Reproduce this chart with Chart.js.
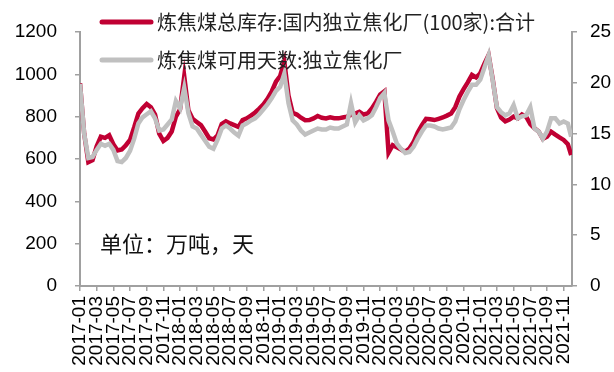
<!DOCTYPE html>
<html>
<head>
<meta charset="utf-8">
<script src="https://cdn.jsdelivr.net/npm/chart.js@4/dist/chart.umd.min.js"></script>
<style>
html,body{margin:0;padding:0;background:#fff;}
#wrap{width:614px;height:372px;}
</style>
</head>
<body>
<div id="wrap"><canvas id="c" width="614" height="372"></canvas></div>
<script>
// ---- data ----
const tickLabels = ['2017-01','2017-03','2017-05','2017-07','2017-09','2017-11',
  '2018-01','2018-03','2018-05','2018-07','2018-09','2018-11',
  '2019-01','2019-03','2019-05','2019-07','2019-09','2019-11',
  '2020-01','2020-03','2020-05','2020-07','2020-09','2020-11',
  '2021-01','2021-03','2021-05','2021-07','2021-09','2021-11'];

const dates = [
  '2017-01-01','2017-01-16','2017-02-01','2017-02-16','2017-03-01','2017-03-16','2017-04-01','2017-04-16','2017-05-01','2017-05-16','2017-06-01','2017-06-16',
  '2017-07-01','2017-07-16','2017-08-01','2017-08-16','2017-09-01','2017-09-16','2017-10-01','2017-10-16','2017-11-01','2017-11-16','2017-12-01','2017-12-16',
  '2018-01-01','2018-01-16','2018-02-01','2018-02-16','2018-03-01','2018-03-16','2018-04-01','2018-04-16','2018-05-01','2018-05-16','2018-06-01','2018-06-16',
  '2018-07-01','2018-07-16','2018-08-01','2018-08-16','2018-09-01','2018-09-16','2018-10-01','2018-10-16','2018-11-01','2018-11-16','2018-12-01','2018-12-16',
  '2019-01-01','2019-01-16','2019-02-01','2019-02-16','2019-03-01','2019-03-16','2019-04-01','2019-04-16','2019-05-01','2019-05-16','2019-06-01','2019-06-16',
  '2019-07-01','2019-07-16','2019-08-01','2019-08-16','2019-09-01','2019-09-16','2019-10-01','2019-10-16','2019-11-01','2019-11-16','2019-12-01','2019-12-16',
  '2020-01-01','2020-01-16','2020-02-01','2020-02-16','2020-03-01','2020-03-16','2020-04-01','2020-04-16','2020-05-01','2020-05-16','2020-06-01','2020-06-16',
  '2020-07-01','2020-07-16','2020-08-01','2020-08-16','2020-09-01','2020-09-16','2020-10-01','2020-10-16','2020-11-01','2020-11-16','2020-12-01','2020-12-16',
  '2021-01-01','2021-01-16','2021-02-01','2021-02-16','2021-03-01','2021-03-16','2021-04-01','2021-04-16','2021-05-01','2021-05-16','2021-06-01','2021-06-16',
  '2021-07-01','2021-07-16','2021-08-01','2021-08-16','2021-09-01','2021-09-16','2021-10-01','2021-10-16','2021-11-01','2021-11-16','2021-11-28'
];

// 炼焦煤总库存:国内独立焦化厂(100家):合计 (万吨)
const totalStock = [
  958,720,585,595,660,705,700,712,670,640,645,665,690,750,815,840,860,845,810,720,685,700,730,800,
  835,990,830,790,775,760,730,698,692,712,765,778,768,760,752,784,792,805,820,838,858,885,920,965,
  992,1060,900,818,810,795,783,784,792,803,795,792,797,793,792,796,800,808,815,823,810,815,839,870,
  905,920,630,665,655,645,634,650,680,725,760,790,788,784,790,796,805,815,845,895,930,962,997,985,
  1005,1050,1091,975,840,795,778,786,800,792,810,800,765,745,730,695,705,729,715,702,690,670,619
];

// 炼焦煤可用天数:独立焦化厂 (天)
const usableDays = [
  19.9,15.0,12.6,12.7,13.4,14.0,13.8,14.0,13.4,12.3,12.2,12.6,13.3,14.5,16.0,16.6,16.9,17.2,16.5,15.3,15.4,15.9,16.4,18.2,
  17.5,19.5,17.0,15.7,15.5,14.9,14.3,13.7,13.5,14.4,15.5,15.8,15.5,15.1,14.8,15.8,16.0,16.3,16.5,16.9,17.4,17.9,18.5,19.2,
  19.6,20.9,18.0,16.3,15.9,15.3,14.9,15.1,15.3,15.5,15.4,15.4,15.6,15.5,15.5,15.7,15.9,18.0,16.1,16.8,16.3,16.5,16.8,17.6,
  18.5,19.0,16.3,15.2,14.0,13.5,13.1,13.2,13.7,14.5,15.2,15.8,15.8,15.7,15.5,15.4,15.5,15.6,16.2,17.4,18.3,19.1,19.8,19.8,
  20.3,21.5,22.7,20.2,17.6,17.1,16.8,17.0,17.8,16.5,16.7,16.8,17.6,15.5,15.2,14.5,15.2,16.5,16.5,16.0,16.2,16.0,14.7
];

const seriesNames = ['炼焦煤总库存:国内独立焦化厂(100家):合计', '炼焦煤可用天数:独立焦化厂'];
const unitNote = '单位：万吨，天';

// ---- helpers ----
function monthIndex(s) {
  const [y, m, d] = s.split('-').map(Number);
  return (y - 2017) * 12 + (m - 1) + (d - 1) / 30;
}
const xs = dates.map(monthIndex);
const toPts = vals => vals.map((v, i) => ({ x: xs[i], y: v }));

const RED = '#C00033';
const GRAY = '#C0C0C0';
const AXIS = '#A0A0A0';
const tickFont = { family: '"Liberation Sans", Arial, sans-serif', size: 19 };

const overlay = {
  id: 'overlay',
  afterDatasetsDraw(chart) {
    const ctx = chart.ctx;
    ctx.save();
    const rows = [22, 60];
    chart.data.datasets.forEach((ds, i) => {
      const y = rows[i];
      ctx.strokeStyle = ds.borderColor;
      ctx.lineWidth = 5;
      ctx.lineCap = 'round';
      ctx.beginPath();
      ctx.moveTo(102, y);
      ctx.lineTo(151, y);
      ctx.stroke();
      ctx.fillStyle = '#222';
      ctx.font = '20px "Noto Sans CJK SC", sans-serif';
      ctx.textBaseline = 'middle';
      ctx.textAlign = 'left';
      ctx.fillText(ds.label, 157, y);
    });
    ctx.fillStyle = '#111';
    ctx.font = '22px "Noto Sans CJK SC", sans-serif';
    ctx.textBaseline = 'middle';
    ctx.fillText(unitNote, 100, 244);
    ctx.restore();
  }
};

new Chart(document.getElementById('c'), {
  type: 'line',
  data: {
    datasets: [
      { label: seriesNames[0], data: toPts(totalStock), yAxisID: 'y', borderColor: RED, backgroundColor: RED,
        borderWidth: 4.5, pointRadius: 0, tension: 0, order: 1 },
      { label: seriesNames[1], data: toPts(usableDays), yAxisID: 'y1', borderColor: GRAY, backgroundColor: GRAY,
        borderWidth: 4.5, pointRadius: 0, tension: 0, order: 0 }
    ]
  },
  options: {
    responsive: false,
    devicePixelRatio: 1,
    animation: false,
    layout: { padding: { top: 32, left: 0, right: 0, bottom: 0 } },
    plugins: { legend: { display: false }, tooltip: { enabled: false } },
    scales: {
      x: {
        type: 'linear', min: 0, max: 59,
        afterBuildTicks: s => { s.ticks = tickLabels.map((_, i) => ({ value: i * 2 })); },
        afterFit: s => { s.height = 86; },
        ticks: { autoSkip: false, maxRotation: 90, minRotation: 90, padding: 5, color: '#000', font: tickFont,
          callback: v => tickLabels[Math.round(v / 2)] },
        grid: { drawOnChartArea: false, drawTicks: true, tickLength: 5, color: AXIS, lineWidth: 1.5 },
        border: { color: AXIS, width: 2 }
      },
      y: {
        position: 'left', min: 0, max: 1200,
        afterFit: s => { s.width = 80; },
        ticks: { stepSize: 200, padding: 18, color: '#000', font: tickFont, callback: v => String(v) },
        grid: { drawOnChartArea: false, drawTicks: true, tickLength: 5, color: AXIS, lineWidth: 1.5 },
        border: { color: AXIS, width: 2 }
      },
      y1: {
        position: 'right', min: 0, max: 25,
        afterFit: s => { s.width = 42; },
        ticks: { stepSize: 5, padding: 13, color: '#000', font: tickFont, callback: v => String(v) },
        grid: { drawOnChartArea: false, drawTicks: true, tickLength: 5, color: AXIS, lineWidth: 1.5 },
        border: { color: AXIS, width: 2 }
      }
    }
  },
  plugins: [overlay]
});
</script>
</body>
</html>
